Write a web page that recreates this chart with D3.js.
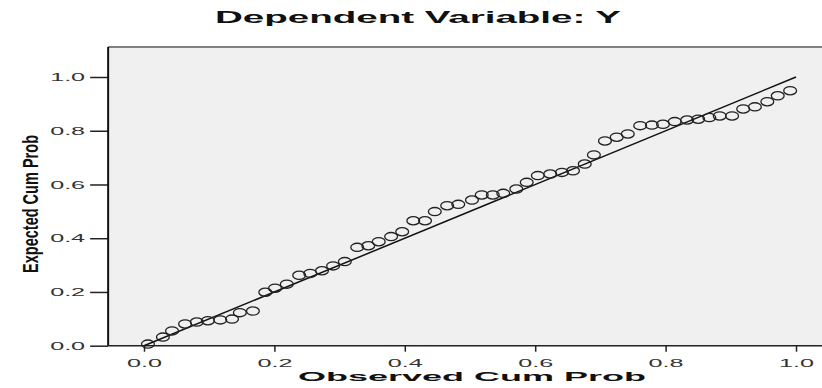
<!DOCTYPE html>
<html>
<head>
<meta charset="utf-8">
<script src="https://cdn.jsdelivr.net/npm/d3@7"></script>
<style>
  body { margin: 0; background: #fff; }
  svg { display: block; font-family: "Liberation Sans", Arial, sans-serif; }
</style>
</head>
<body>
<script>
// Observed vs expected cumulative probabilities
const observed = [0.006, 0.029, 0.043, 0.063, 0.081, 0.098, 0.117, 0.135, 0.147, 0.167,
  0.186, 0.201, 0.219, 0.238, 0.255, 0.273, 0.290, 0.308, 0.327, 0.344,
  0.360, 0.379, 0.396, 0.413, 0.431, 0.446, 0.465, 0.482, 0.503, 0.518,
  0.535, 0.551, 0.571, 0.587, 0.604, 0.623, 0.641, 0.658, 0.676, 0.690,
  0.707, 0.725, 0.742, 0.761, 0.779, 0.796, 0.814, 0.833, 0.850, 0.867,
  0.883, 0.902, 0.919, 0.937, 0.956, 0.972, 0.991];
const expected = [0.006, 0.032, 0.055, 0.081, 0.088, 0.093, 0.096, 0.099, 0.123, 0.129,
  0.199, 0.214, 0.229, 0.262, 0.269, 0.279, 0.297, 0.313, 0.366, 0.372,
  0.387, 0.406, 0.424, 0.465, 0.465, 0.499, 0.521, 0.526, 0.542, 0.561,
  0.561, 0.567, 0.583, 0.608, 0.633, 0.639, 0.645, 0.651, 0.676, 0.710,
  0.762, 0.776, 0.788, 0.819, 0.821, 0.824, 0.834, 0.840, 0.843, 0.849,
  0.855, 0.855, 0.881, 0.889, 0.908, 0.930, 0.949];
const tickValues = [0, 0.2, 0.4, 0.6, 0.8, 1.0];
const refLine = [0, 1];

const [w, h] = [822, 388];

const svg = d3.select('body')
    .append('svg')
    .attr('width', w)
    .attr('height', h);

// Scales (the frame runs a bit past 0 and 1, and past the right edge)
const x = d3.scaleLinear().domain([0, 1]).range([144, 796]);
const y = d3.scaleLinear().domain([0, 1]).range([345.7, 77]);
const frameLeft = x(-0.055), frameRight = x(1.06), frameTop = 47, frameBottom = y(0);

// Plot background
svg.append('rect')
    .attr('x', frameLeft)
    .attr('y', frameTop)
    .attr('width', frameRight - frameLeft)
    .attr('height', frameBottom - frameTop)
    .attr('fill', '#f0f0f0');

svg.append('line')
    .attr('x1', frameLeft).attr('x2', frameRight)
    .attr('y1', frameTop).attr('y2', frameTop)
    .attr('stroke', '#808080').attr('stroke-width', 2);

// Axes
const yAxis = d3.axisLeft(y)
    .tickValues(tickValues)
    .tickSize(18)
    .tickPadding(5)
    .tickFormat(d3.format('.1f'));

const xAxis = d3.axisBottom(x)
    .tickValues(tickValues)
    .tickSize(6)
    .tickPadding(7)
    .tickFormat(d3.format('.1f'));

const gy = svg.append('g')
    .attr('transform', `translate(${frameLeft}, 0)`)
    .call(yAxis);

const gx = svg.append('g')
    .attr('transform', `translate(0, ${frameBottom})`)
    .call(xAxis);

[gx, gy].forEach(g => {
    g.select('.domain').remove();
    g.selectAll('.tick line').attr('stroke', '#222').attr('stroke-width', 1.5);
    g.selectAll('.tick text')
        .attr('fill', '#333')
        .attr('font-size', '11.5px')
        .attr('font-family', '"Liberation Sans", Arial, sans-serif')
        .attr('textLength', 35)
        .attr('lengthAdjust', 'spacingAndGlyphs');
});

// Left and bottom frame lines
svg.append('line')
    .attr('x1', frameLeft).attr('x2', frameLeft)
    .attr('y1', frameTop).attr('y2', frameBottom)
    .attr('stroke', '#111').attr('stroke-width', 2);

svg.append('line')
    .attr('x1', frameLeft).attr('x2', frameRight)
    .attr('y1', frameBottom).attr('y2', frameBottom)
    .attr('stroke', '#222').attr('stroke-width', 1.5);

// Reference line
svg.append('line')
    .attr('x1', x(refLine[0])).attr('y1', y(refLine[0]))
    .attr('x2', x(refLine[1])).attr('y2', y(refLine[1]))
    .attr('stroke', '#111')
    .attr('stroke-width', 1.5);

// Points (the picture is stretched sideways, so circles come out as ellipses)
svg.selectAll('.pt')
    .data(observed.map((d, i) => [d, expected[i]]))
    .enter()
    .append('ellipse')
    .attr('class', 'pt')
    .attr('cx', d => x(d[0]))
    .attr('cy', d => y(d[1]))
    .attr('rx', 6.4)
    .attr('ry', 4.1)
    .attr('fill', 'none')
    .attr('stroke', '#222')
    .attr('stroke-width', 1.3);

// Title
svg.append('text')
    .attr('x', 418)
    .attr('y', 23)
    .attr('text-anchor', 'middle')
    .attr('font-size', '16px')
    .attr('font-weight', 'bold')
    .attr('fill', '#111')
    .attr('textLength', 406)
    .attr('lengthAdjust', 'spacingAndGlyphs')
    .text('Dependent Variable: Y');

// X axis title
svg.append('text')
    .attr('x', 472)
    .attr('y', 381)
    .attr('text-anchor', 'middle')
    .attr('font-size', '13.5px')
    .attr('font-weight', 'bold')
    .attr('fill', '#111')
    .attr('textLength', 348)
    .attr('lengthAdjust', 'spacingAndGlyphs')
    .text('Observed Cum Prob');

// Y axis title
svg.append('g')
    .attr('transform', 'translate(38, 204) scale(1.6, 1)')
    .append('text')
    .attr('transform', 'rotate(-90)')
    .attr('text-anchor', 'middle')
    .attr('font-size', '14px')
    .attr('font-weight', 'bold')
    .attr('fill', '#111')
    .attr('textLength', 138)
    .attr('lengthAdjust', 'spacingAndGlyphs')
    .text('Expected Cum Prob');
</script>
</body>
</html>
